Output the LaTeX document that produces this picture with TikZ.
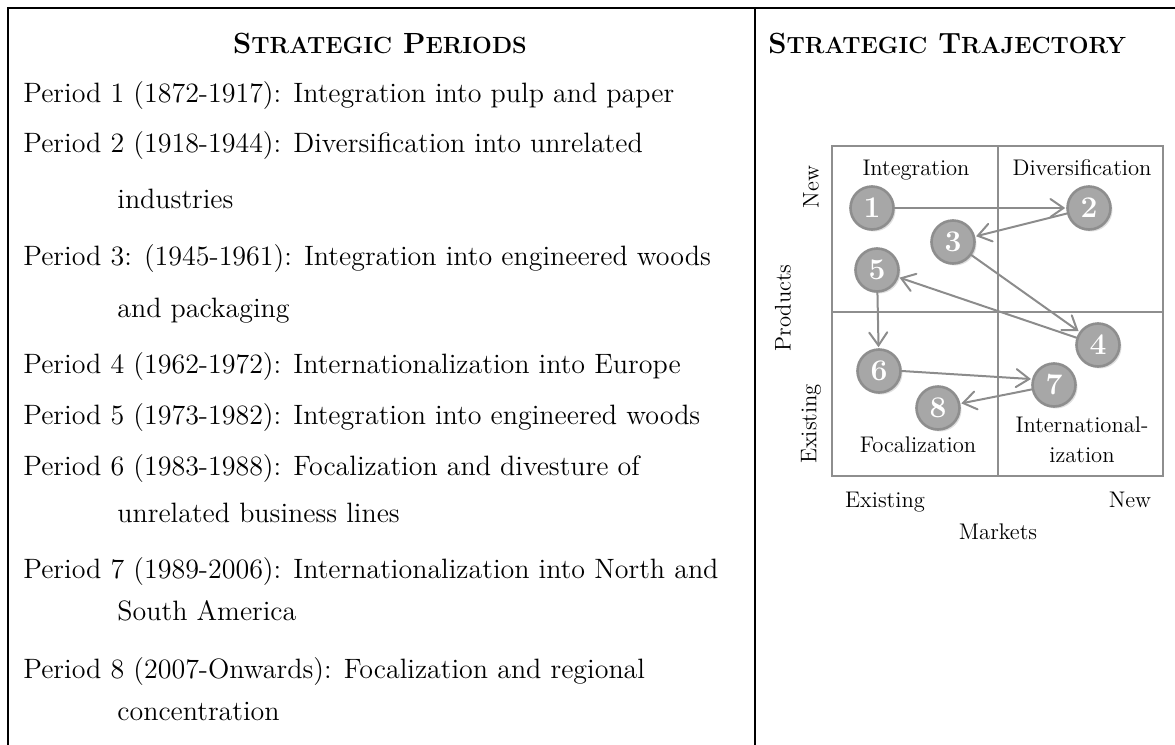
\documentclass[tikz,border=0pt]{standalone}
\usetikzlibrary{arrows.meta,shadows}
\definecolor{mgray}{HTML}{8E8E8E}
\definecolor{agray}{HTML}{8C8C8C}
\definecolor{cfill}{HTML}{A7A7A7}
\newcommand{\fsc}[2]{#1{\fontsize{11.7}{12}\selectfont #2}}
\tikzset{
  rule/.style={line width=1.3pt, black},
  body/.style={anchor=base west, inner sep=0pt, font=\fontsize{14}{17}\selectfont},
  head/.style={anchor=base, inner sep=0pt, font=\fontsize{14.6}{17}\selectfont\bfseries},
  mlab/.style={anchor=base, inner sep=0pt, font=\fontsize{11.3}{13}\selectfont},
  rlab/.style={inner sep=0pt, rotate=90, font=\fontsize{11.3}{13}\selectfont},
  grid/.style={line width=1.4pt, mgray},
  stepcirc/.style={circle, fill=cfill, draw=mgray, line width=1.3pt, minimum size=21.5pt, inner sep=0pt, text=white, font=\fontsize{15}{15}\selectfont\bfseries, drop shadow={opacity=0.25, shadow xshift=1pt, shadow yshift=-1pt}},
  trans/.style={line width=1pt, agray, -{Straight Barb[length=6.5pt, width=9pt, line cap=round]}, line cap=round, shorten >=0.5pt}
}
\begin{document}
\begin{tikzpicture}[x=0.5pt, y=-0.5pt]
\useasboundingbox (0,0) rectangle (1175,745);
% table rules
\coordinate (tl) at (8,8);
\coordinate (tr) at (1175,8);
\coordinate (bl) at (8,745);
\coordinate (dt) at (755,8);
\coordinate (db) at (755,745);
\draw[rule] (tr) -- (tl) -- (bl);
\draw[rule] (dt) -- (db);
% headers
\node[head] (h1) at (380,53) {\fsc{S}{TRATEGIC} \fsc{P}{ERIODS}};
\node[head, anchor=base west] (h2) at (768,53) {\fsc{S}{TRATEGIC} \fsc{T}{RAJECTORY}};
% periods
\node[body] (p1) at (23,102) {Period 1 (1872-1917): Integration into pulp and paper};
\node[body] (p2) at (23,152) {Period 2 (1918-1944): Diversification into unrelated};
\node[body] (p2b) at (117,208) {industries};
\node[body] (p3) at (23,265) {Period 3: (1945-1961): Integration into engineered woods};
\node[body] (p3b) at (117,317) {and packaging};
\node[body] (p4) at (23,373) {Period 4 (1962-1972): Internationalization into Europe};
\node[body] (p5) at (23,424) {Period 5 (1973-1982): Integration into engineered woods};
\node[body] (p6) at (23,475) {Period 6 (1983-1988): Focalization and divesture of};
\node[body] (p6b) at (117,522) {unrelated business lines};
\node[body] (p7) at (23,578) {Period 7 (1989-2006): Internationalization into North and};
\node[body] (p7b) at (117,620) {South America};
\node[body] (p8) at (23,678) {Period 8 (2007-Onwards): Focalization and regional};
\node[body] (p8b) at (117,720) {concentration};
% matrix
\draw[grid] (832,146) rectangle (1163,476);
\draw[grid] (998,146) -- (998,476);
\draw[grid] (832,312) -- (1163,312);
\node[mlab] (qi) at (916,175) {Integration};
\node[mlab] (qd) at (1082,175) {Diversification};
\node[mlab] (qf) at (918,452) {Focalization};
\node[mlab] (qn1) at (1082,432) {International-};
\node[mlab] (qn2) at (1082,462) {ization};
\node[rlab] (yn) at (811,187) {New};
\node[rlab] (yp) at (783,308) {Products};
\node[rlab] (ye) at (811,424) {Existing};
\node[mlab] (xe) at (885,507) {Existing};
\node[mlab] (xn) at (1130,507) {New};
\node[mlab] (xm) at (998,539) {Markets};
% steps
\node[stepcirc] (s1) at (872,208) {1};
\node[stepcirc] (s2) at (1089,208) {2};
\node[stepcirc] (s3) at (953,242) {3};
\node[stepcirc] (s5) at (877,270) {5};
\node[stepcirc] (s4) at (1098,345) {4};
\node[stepcirc] (s6) at (879,371) {6};
\node[stepcirc] (s7) at (1054,385) {7};
\node[stepcirc] (s8) at (938,408) {8};
\draw[trans] (s1) -- (s2);
\draw[trans] (s2) -- (s3);
\draw[trans] (s3) -- (s4);
\draw[trans] (s4) -- (s5);
\draw[trans] (s5) -- (s6);
\draw[trans] (s6.east) -- (s7.165);
\draw[trans] (s7) -- (s8);
\end{tikzpicture}
\end{document}
